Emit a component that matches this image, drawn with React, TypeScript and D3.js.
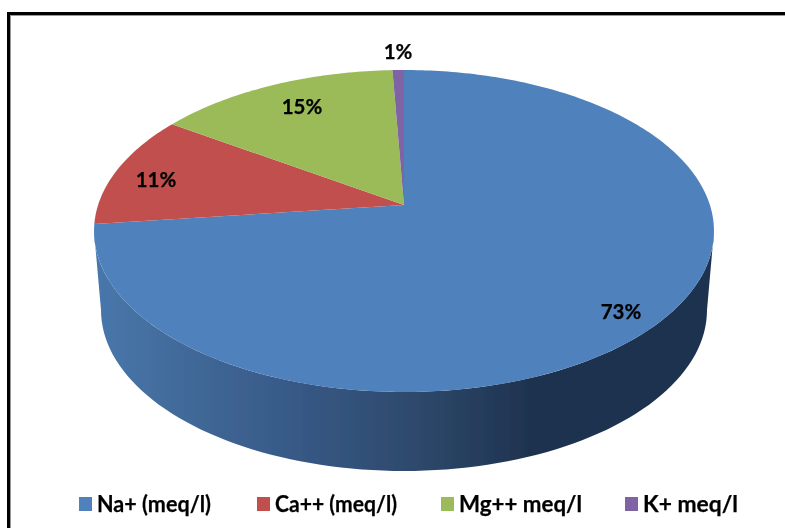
import React from "react";
import * as d3 from "d3";

const categories = ["Na+ (meq/l)", "Ca++ (meq/l)", "Mg++ meq/l", "K+ meq/l"];
const values = [73.1, 11.4, 14.8, 0.7];
const labels = ["73%", "11%", "15%", "1%"];
const colors = ["#4f81bd", "#c0504d", "#9bbb59", "#8064a2"];
const labelPos: [number, number][] = [[621, 311], [156, 179], [302, 106], [398, 51]];
const legendX = [79, 257, 441, 625];
const legendTextWidth = [114, 122, 123, 95];

const W = 785, H = 528;
const ax = 404, ay = 205;
const k = -0.1615, a = 156.8, b = 305.9;

function project(theta: number): [number, number] {
  const u = Math.sin(theta), v = -Math.cos(theta);
  const d = 1 + k * v;
  return [ax + (b * u) / d, ay + (a * v) / d];
}

const arcs = d3.pie<number>().sort(null)(values);
const line = d3.line();

function slicePath(s: number, e: number) {
  const n = Math.max(4, Math.ceil((e - s) * 60));
  const pts = d3.range(n + 1).map((i) => project(s + ((e - s) * i) / n));
  return line([[ax, ay], ...pts])! + "Z";
}

const topCy = 231, topRx = 310, topRy = 161;
const botCy = 310, botRx = 303, botRy = 161;
const cx = 404;
function wallPath() {
  const lower = d3.range(0, 181, 2).map((t): [number, number] => {
    const r = (t * Math.PI) / 180;
    return [cx - botRx * Math.cos(r), botCy + botRy * Math.sin(r)];
  });
  const upper = d3.range(180, -1, -2).map((t): [number, number] => {
    const r = (t * Math.PI) / 180;
    return [cx - topRx * Math.cos(r), topCy + topRy * Math.sin(r)];
  });
  return line([...lower, ...upper])! + "Z";
}

export default function App() {
  return (
    <svg
      width={W}
      height={H}
      style={{ position: "fixed", left: 0, top: 0, background: "#fff" }}
      fontFamily="Lato, sans-serif"
      fontWeight={700}
    >
      <defs>
        <linearGradient id="wall" gradientUnits="userSpaceOnUse" x1={94} x2={714} y1={0} y2={0}>
          <stop offset="0" stopColor="#4877ac" />
          <stop offset="0.11" stopColor="#436d9d" />
          <stop offset="0.31" stopColor="#385a88" />
          <stop offset="0.51" stopColor="#2e4a6d" />
          <stop offset="0.7" stopColor="#1f3350" />
          <stop offset="1" stopColor="#1e334f" />
        </linearGradient>
        <filter id="soft" filterUnits="userSpaceOnUse" x={0} y={0} width={W} height={H}>
          <feGaussianBlur stdDeviation="0.45" />
        </filter>
      </defs>
      <rect x={8.5} y={13.5} width={900} height={700} fill="none" stroke="#000" strokeWidth={3} />
      <rect x={10.5} y={15.5} width={900} height={700} fill="none" stroke="#999" strokeWidth={1} />
      <g filter="url(#soft)">
        <path d={wallPath()} fill="url(#wall)" />
        {arcs.map((d, i) => (
          <path key={i} d={slicePath(d.startAngle, d.endAngle)} fill={colors[i]} />
        ))}
        <g fill="#000" stroke="#000" strokeWidth={0.25}>
          {labels.map((t, i) => (
            <text key={i} x={labelPos[i][0]} y={labelPos[i][1]} textAnchor="middle" dominantBaseline="central" fontSize={20.5}>
              {t}
            </text>
          ))}
          {categories.map((c, i) => (
            <g key={c}>
              <rect x={legendX[i]} y={497} width={13} height={14} fill={colors[i]} stroke="none" />
              <text
                x={legendX[i] + 18}
                y={503}
                dominantBaseline="central"
                fontSize={23}
                textLength={legendTextWidth[i]}
                lengthAdjust="spacingAndGlyphs"
              >
                {c}
              </text>
            </g>
          ))}
        </g>
      </g>
    </svg>
  );
}
